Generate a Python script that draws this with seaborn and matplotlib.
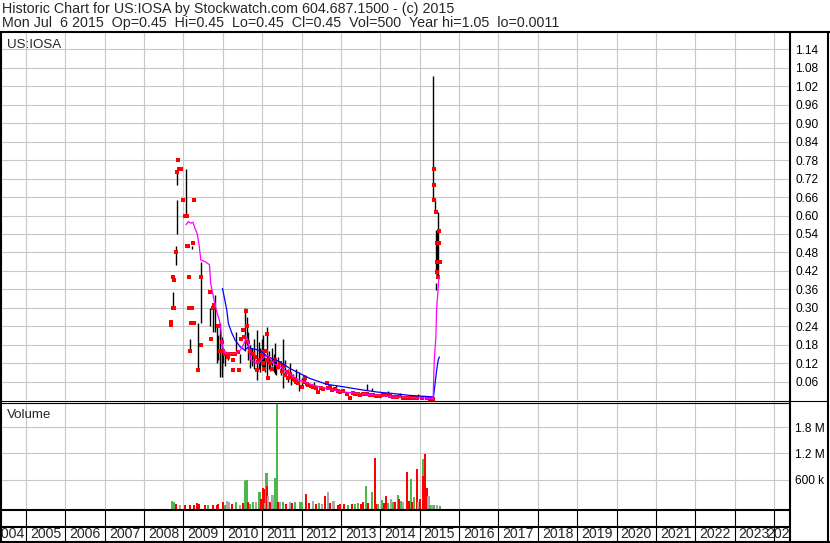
import numpy as np
import pandas as pd
import matplotlib
matplotlib.use("Agg")
import matplotlib.pyplot as plt
import seaborn as sns

# ---------------- data ----------------
title_line1 = "Historic Chart for US:IOSA by Stockwatch.com 604.687.1500 - (c) 2015"
title_line2 = "Mon Jul  6 2015  Op=0.45  Hi=0.45  Lo=0.45  Cl=0.45  Vol=500  Year hi=1.05  lo=0.0011"
symbol = "US:IOSA"
years = list(range(2004, 2025))

bar_dates = [2008.726, 2008.802, 2008.828, 2008.84, 2009.064, 2009.158, 2009.209, 2009.361,
             2009.437, 2009.674, 2009.737, 2009.80, 2009.844, 2009.877, 2009.971, 2010.004,
             2010.042, 2010.13, 2010.334, 2010.436, 2010.563, 2010.606, 2010.639, 2010.69,
             2010.784, 2010.86, 2010.918, 2010.987, 2011.053, 2011.129, 2011.172, 2011.248,
             2011.325, 2011.401, 2011.52, 2011.579, 2011.706, 2011.79, 2011.858, 2011.942,
             2012.01, 2012.087, 2012.315, 2012.874, 2013.654, 2013.789, 2014.195, 2014.50,
             2014.957, 2015.345, 2015.383, 2015.406, 2015.414, 2015.447, 2015.472,
             2010.70, 2010.75, 2010.80, 2010.95, 2011.02, 2011.08, 2011.20, 2011.29,
             2011.36, 2011.47, 2011.65, 2011.74, 2009.92, 2009.99]
bar_hi = [0.35, 0.50, 0.65, 0.74, 0.75, 0.20, 0.50, 0.25,
          0.45, 0.30, 0.31, 0.34, 0.24, 0.21, 0.205, 0.17,
          0.16, 0.15, 0.22, 0.15, 0.30, 0.27, 0.22, 0.16,
          0.20, 0.227, 0.19, 0.20, 0.15, 0.238, 0.16, 0.17,
          0.184, 0.14, 0.20, 0.13, 0.12, 0.086, 0.10, 0.09,
          0.07, 0.08, 0.06, 0.05, 0.053, 0.04, 0.03, 0.022,
          0.02, 1.053, 0.65, 0.552, 0.38, 0.55, 0.61,
          0.18, 0.17, 0.16, 0.17, 0.21, 0.13, 0.14, 0.15,
          0.13, 0.12, 0.10, 0.09, 0.25, 0.16]
bar_lo = [0.30, 0.44, 0.54, 0.70, 0.60, 0.16, 0.49, 0.10,
          0.25, 0.24, 0.22, 0.22, 0.12, 0.13, 0.075, 0.12,
          0.11, 0.13, 0.16, 0.12, 0.16, 0.18, 0.13, 0.105,
          0.12, 0.064, 0.10, 0.11, 0.10, 0.07, 0.10, 0.11,
          0.086, 0.10, 0.04, 0.08, 0.08, 0.07, 0.06, 0.03,
          0.05, 0.06, 0.045, 0.035, 0.032, 0.03, 0.02, 0.01,
          0.01, 0.65, 0.61, 0.41, 0.357, 0.40, 0.40,
          0.13, 0.11, 0.10, 0.09, 0.10, 0.09, 0.095, 0.09,
          0.08, 0.08, 0.06, 0.05, 0.075, 0.10]

close_dates = [2008.67, 2008.683, 2008.726, 2008.726, 2008.752, 2008.752, 2008.80, 2008.828,
               2008.853, 2008.874, 2008.925, 2008.98, 2009.05, 2009.077, 2009.08, 2009.122,
               2009.234, 2009.14, 2009.437, 2009.14, 2009.216, 2009.191, 2009.267, 2009.267,
               2009.377, 2009.166, 2009.437, 2009.70, 2009.674, 2009.742, 2009.775, 2009.885,
               2009.928, 2009.971, 2009.996, 2010.055, 2010.139, 2010.225, 2010.309, 2010.393,
               2010.139, 2010.266, 2010.25, 2010.418, 2010.52, 2010.537, 2010.588, 2010.621,
               2010.461, 2010.647, 2010.69, 2010.774, 2010.817, 2010.90, 2010.944, 2010.987,
               2011.028, 2010.86, 2011.045, 2011.096, 2011.129, 2011.154, 2011.012, 2011.114,
               2011.198, 2011.241, 2011.325, 2011.409, 2011.452, 2011.50, 2011.55, 2011.579,
               2011.62, 2011.662, 2011.70, 2011.749, 2011.80, 2011.833, 2011.87, 2011.917,
               2012.003, 2012.05, 2012.087, 2012.13, 2012.171, 2012.23, 2012.298, 2012.36,
               2012.425, 2012.49, 2012.552, 2012.638, 2012.68, 2012.722, 2012.78, 2012.849,
               2012.92, 2012.976, 2013.05, 2013.146, 2013.23, 2013.30, 2013.357, 2013.42,
               2013.484, 2013.56, 2013.654, 2013.73, 2013.822, 2013.90, 2013.992, 2014.08,
               2014.162, 2014.25, 2014.33, 2014.42, 2014.50, 2014.58, 2014.67, 2014.75,
               2014.83, 2014.924, 2015.05, 2015.178, 2015.26, 2015.338,
               2015.37, 2015.37, 2015.37, 2015.406, 2015.43, 2015.43, 2015.447, 2015.49,
               2015.49, 2015.51, 2015.472]
close_vals = [0.245, 0.255, 0.30, 0.40, 0.39, 0.30, 0.48, 0.742,
              0.78, 0.75, 0.75, 0.65, 0.60, 0.60, 0.50, 0.50,
              0.51, 0.40, 0.40, 0.30, 0.30, 0.25, 0.25, 0.65,
              0.097, 0.16, 0.18, 0.20, 0.35, 0.30, 0.31, 0.24,
              0.16, 0.19, 0.16, 0.15, 0.15, 0.15, 0.148, 0.155,
              0.14, 0.13, 0.097, 0.097, 0.227, 0.205, 0.29, 0.24,
              0.20, 0.19, 0.16, 0.15, 0.14, 0.125, 0.13, 0.145,
              0.12, 0.097, 0.10, 0.16, 0.216, 0.07, 0.156, 0.13,
              0.119, 0.10, 0.13, 0.108, 0.12, 0.095, 0.11, 0.08,
              0.09, 0.07, 0.085, 0.075, 0.068, 0.064, 0.058, 0.054,
              0.043, 0.06, 0.07, 0.052, 0.048, 0.045, 0.043, 0.038,
              0.026, 0.04, 0.037, 0.054, 0.04, 0.043, 0.032, 0.035,
              0.03, 0.026, 0.028, 0.021, 0.005, 0.024, 0.02, 0.018,
              0.016, 0.019, 0.02, 0.017, 0.016, 0.014, 0.013, 0.015,
              0.016, 0.012, 0.010, 0.011, 0.012, 0.008, 0.005, 0.007,
              0.006, 0.005, 0.006, 0.005, 0.004, 0.002,
              0.75, 0.70, 0.65, 0.61, 0.51, 0.45, 0.417, 0.51,
              0.55, 0.45, 0.40]

ma_fast_dates = [2009.064, 2009.12, 2009.19, 2009.24, 2009.29, 2009.35, 2009.40, 2009.44,
                 2009.55, 2009.66, 2009.69, 2009.76, 2009.80, 2009.86, 2009.91, 2009.95,
                 2009.99, 2010.05, 2010.18, 2010.31, 2010.44, 2010.54, 2010.61, 2010.65,
                 2010.71, 2010.82, 2010.94, 2011.07, 2011.15, 2011.28, 2011.45, 2011.62,
                 2011.78, 2011.96, 2012.30, 2012.64, 2013.06, 2013.48, 2013.91, 2014.33,
                 2014.75, 2015.34, 2015.37, 2015.41, 2015.43, 2015.46, 2015.48, 2015.50]
ma_fast_vals = [0.57, 0.58, 0.575, 0.578, 0.558, 0.54, 0.50, 0.455,
                0.45, 0.44, 0.38, 0.335, 0.31, 0.28, 0.26, 0.227,
                0.173, 0.153, 0.151, 0.151, 0.162, 0.184, 0.205, 0.184,
                0.13, 0.122, 0.124, 0.142, 0.146, 0.119, 0.11, 0.091,
                0.075, 0.064, 0.048, 0.037, 0.026, 0.021, 0.016, 0.010,
                0.008, 0.005, 0.13, 0.205, 0.30, 0.346, 0.39, 0.40]

ma_slow_dates = [2009.99, 2010.05, 2010.10, 2010.14, 2010.22, 2010.31, 2010.44, 2010.56,
                 2010.65, 2010.73, 2010.86, 2010.99, 2011.15, 2011.45, 2011.71, 2011.96,
                 2012.21, 2012.64, 2013.06, 2013.48, 2013.91, 2014.33, 2014.75, 2015.35,
                 2015.39, 2015.43, 2015.47, 2015.50]
ma_slow_vals = [0.363, 0.325, 0.292, 0.249, 0.22, 0.195, 0.173, 0.162,
                0.173, 0.167, 0.164, 0.156, 0.14, 0.124, 0.102, 0.086,
                0.07, 0.051, 0.043, 0.034, 0.026, 0.021, 0.015, 0.010,
                0.054, 0.097, 0.13, 0.14]

vol_dates = [2008.701, 2008.716, 2008.747, 2008.785, 2008.81, 2008.912, 2009.039, 2009.166,
             2009.267, 2009.351, 2009.382, 2009.547, 2009.623, 2009.75, 2009.844, 2009.877,
             2010.011, 2010.055, 2010.113, 2010.156, 2010.232, 2010.334, 2010.436, 2010.512,
             2010.563, 2010.583, 2010.60, 2010.639, 2010.69, 2010.766, 2010.842, 2010.926,
             2010.969, 2011.012, 2011.04, 2011.071, 2011.104, 2011.129, 2011.154, 2011.198,
             2011.26, 2011.325, 2011.369, 2011.401, 2011.452, 2011.528, 2011.604, 2011.706,
             2011.757, 2011.833, 2011.96, 2012.01, 2012.104, 2012.188, 2012.282, 2012.366,
             2012.442, 2012.518, 2012.595, 2012.663, 2012.722, 2012.806, 2012.925, 2012.976,
             2013.077, 2013.179, 2013.288, 2013.357, 2013.433, 2013.509, 2013.56, 2013.636,
             2013.687, 2013.781, 2013.857, 2013.89, 2013.941, 2014.035, 2014.093, 2014.144,
             2014.195, 2014.264, 2014.322, 2014.373, 2014.441, 2014.467, 2014.525, 2014.576,
             2014.67, 2014.716, 2014.771, 2014.804, 2014.855, 2014.924, 2014.957, 2015.008,
             2015.076, 2015.097, 2015.135, 2015.173, 2015.219, 2015.262, 2015.313, 2015.363,
             2015.439, 2015.516]
vol_k = [106, 122, 80, 40, 50, 15, 20, 15,
         25, 69, 50, 15, 20, 20, 30, 40,
         83, 30, 122, 80, 40, 90, 30, 60,
         561, 150, 584, 100, 50, 80, 100, 330,
         150, 400, 376, 60, 761, 452, 222, 100,
         261, 646, 2330, 80, 100, 100, 50, 83,
         60, 100, 92, 80, 284, 60, 106, 50,
         70, 50, 222, 314, 60, 122, 30, 40,
         50, 30, 53, 40, 60, 50, 80, 452,
         60, 330, 1090, 50, 40, 145, 60, 238,
         60, 168, 80, 100, 260, 150, 120, 80,
         776, 120, 607, 80, 200, 838, 100, 150,
         1070, 683, 1180, 400, 238, 30, 20, 15,
         15, 10]
vol_dir = ["up", "up", "up", "up", "down", "flat", "down", "down",
           "down", "down", "down", "down", "up", "down", "down", "down",
           "down", "up", "flat", "flat", "down", "up", "flat", "down",
           "up", "down", "up", "down", "up", "up", "flat", "up",
           "down", "down", "down", "flat", "up", "down", "flat", "down",
           "flat", "up", "up", "down", "flat", "up", "down", "flat",
           "down", "up", "up", "up", "down", "down", "flat", "down",
           "up", "flat", "down", "flat", "down", "flat", "down", "down",
           "down", "up", "down", "up", "up", "down", "down", "up",
           "down", "up", "down", "down", "up", "up", "down", "down",
           "up", "flat", "up", "down", "up", "down", "up", "flat",
           "down", "down", "up", "down", "up", "down", "flat", "down",
           "up", "down", "down", "down", "flat", "up", "flat", "up",
           "flat", "up"]

price_ticks = [0.06, 0.12, 0.18, 0.24, 0.30, 0.36, 0.42, 0.48, 0.54, 0.60,
               0.66, 0.72, 0.78, 0.84, 0.90, 0.96, 1.02, 1.08, 1.14]
vol_ticks_k = [600, 1200, 1800]
vol_tick_labels = ["600 k", "1.2 M", "1.8 M"]

# ---------------- style ----------------
sns.set_style("white")
plt.rcParams['font.family'] = ['Liberation Sans', 'DejaVu Sans']

W, H = 830, 543
fig = plt.figure(figsize=(W / 100, H / 100), dpi=100)
fig.patch.set_facecolor("white")


def rect(x0, y0, x1, y1):
    return [x0 / W, 1 - y1 / H, (x1 - x0) / W, (y1 - y0) / H]


XMIN, XMAX = 2004.39, 2024.38
GRID = "#c8c8c8"
dir_colors = {"up": "#4cb84c", "down": "#ff0000", "flat": "#a8a8a8"}

ax = fig.add_axes(rect(2, 33, 789, 400))
axv = fig.add_axes(rect(2, 402, 789, 509))
axy = fig.add_axes(rect(2, 510, 789, 541))

for a in (ax, axv, axy):
    a.set_xlim(XMIN, XMAX)
    a.set_facecolor("white")
    for s in a.spines.values():
        s.set_visible(False)

# grid
grid_years = [y for y in years if XMIN < y < XMAX]
for a in (ax, axv):
    a.set_xticks(grid_years)
    a.tick_params(axis="x", length=0, labelbottom=False)
    a.grid(True, color=GRID, lw=0.8)
    a.set_axisbelow(True)

# ---- price panel ----
ax.set_ylim(0, 1.1935)
ax.set_yticks(price_ticks)
ax.set_yticklabels([f"{t:.2f}" for t in price_ticks])
ax.yaxis.tick_right()
ax.tick_params(axis="y", length=0, pad=4.5, labelsize=8.6, labelcolor="black")

ax.vlines(bar_dates, bar_lo, bar_hi, color="black", lw=1.0, zorder=3)
closes = pd.DataFrame({"date": close_dates, "close": close_vals})
sns.scatterplot(data=closes, x="date", y="close", ax=ax, color="#ff0000", marker="s",
                s=5.2, linewidth=0, legend=False, zorder=4)
fast = pd.DataFrame({"date": ma_fast_dates, "ma": ma_fast_vals})
slow = pd.DataFrame({"date": ma_slow_dates, "ma": ma_slow_vals})
sns.lineplot(data=slow, x="date", y="ma", ax=ax, color="#0000ff", lw=0.9,
             estimator=None, sort=False, zorder=5)
sns.lineplot(data=fast, x="date", y="ma", ax=ax, color="#ff00ff", lw=0.9,
             estimator=None, sort=False, zorder=5)
ax.set_xlabel("")
ax.set_ylabel("")
ax.set_xlim(XMIN, XMAX)
ax.text(0.006, 0.985, symbol, transform=ax.transAxes, ha="left", va="top", fontsize=9.6)

# ---- volume panel ----
VMIN = -70
axv.set_ylim(VMIN, 2377)
axv.bar(vol_dates, [v - VMIN for v in vol_k], bottom=VMIN, width=0.06,
        color=[dir_colors[d] for d in vol_dir], linewidth=0, zorder=3)
axv.set_yticks(vol_ticks_k)
axv.set_yticklabels(vol_tick_labels)
axv.yaxis.tick_right()
axv.tick_params(axis="y", length=0, pad=4.5, labelsize=8.6, labelcolor="black")
axv.text(0.006, 0.93, "Volume", transform=axv.transAxes, ha="left", va="top", fontsize=9.6)

# ---- year row ----
axy.set_ylim(0, 1)
axy.set_xticks([])
axy.set_yticks([])
axy.vlines(grid_years, 0, 1, color="black", lw=0.8)
for y in years:
    c = y + 0.5
    if y + 1 > XMAX:
        c = (y + XMAX) / 2
    if y < XMIN:
        c = y + 0.57
    axy.text(c, 0.22, str(y), ha="center", va="center", fontsize=10.2, clip_on=True)

# ---- overlay frame lines ----
ov = fig.add_axes([0, 0, 1, 1])
ov.set_xlim(0, W)
ov.set_ylim(H, 0)
ov.axis("off")
ov.patch.set_alpha(0)
lw2 = 1.5
ov.plot([0, W], [32, 32], color="black", lw=lw2)
ov.plot([1, 1], [32, H], color="black", lw=lw2)
ov.plot([828, 828], [32, H], color="black", lw=lw2)
ov.plot([0, W], [542, 542], color="black", lw=lw2)
ov.plot([789.5, 789.5], [32, 542], color="black", lw=lw2)
ov.plot([0, 828], [400.5, 400.5], color="black", lw=0.8)
ov.plot([0, 789.5], [402.5, 402.5], color="black", lw=0.8)
ov.plot([0, 789.5], [510, 510], color="black", lw=lw2)
ov.plot([0, 789.5], [527, 527], color="black", lw=lw2)
ov.text(2, 12.5, title_line1, ha="left", va="baseline", fontsize=10.3)
ov.text(2, 27, title_line2, ha="left", va="baseline", fontsize=10.3)

fig.savefig("out.png", dpi=100, facecolor="white")
